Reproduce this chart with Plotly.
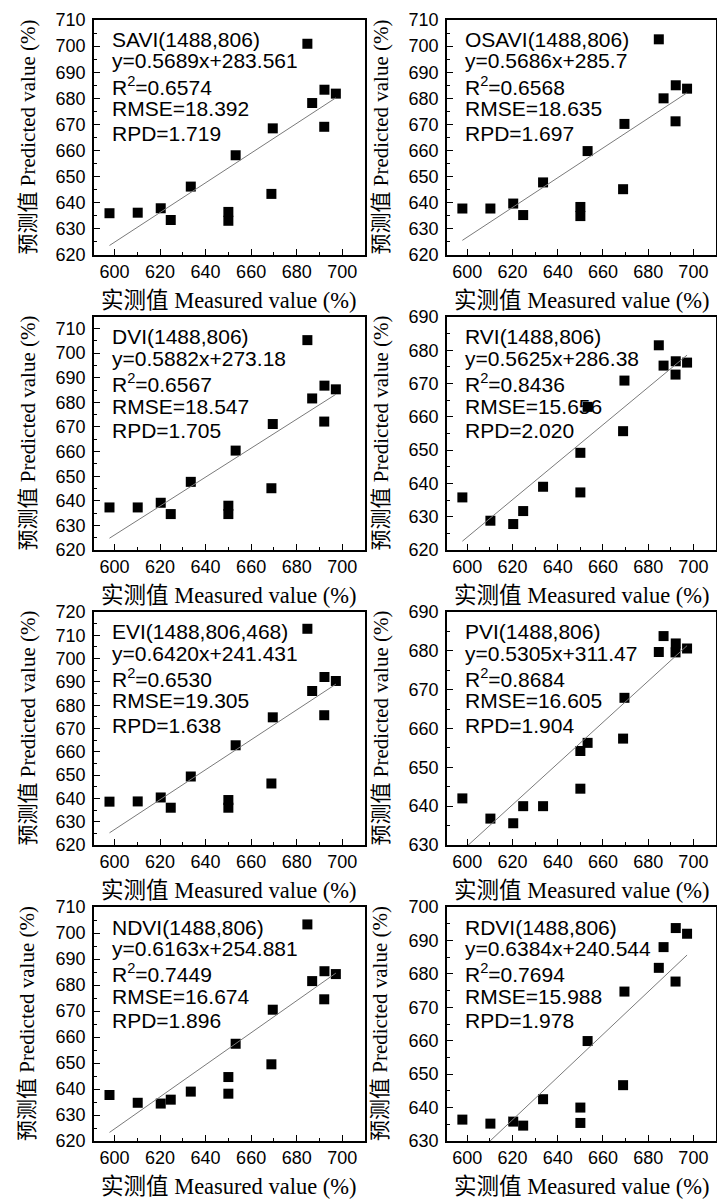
import plotly.graph_objects as go

# ---------------- data ----------------
measured = [597.8, 610.2, 620.3, 624.7, 633.5, 650.0, 650.0, 653.2, 668.9, 669.5,
            684.7, 686.8, 692.1, 692.2, 697.2]

names = ["SAVI(1488,806)", "OSAVI(1488,806)", "DVI(1488,806)", "RVI(1488,806)",
         "EVI(1488,806,468)", "PVI(1488,806)", "NDVI(1488,806)", "RDVI(1488,806)"]

savi = [636.0, 636.2, 637.9, 633.4, 646.2, 636.5, 633.1, 658.2, 643.4, 668.5, 700.9, 678.2, 669.1, 683.3, 681.8]
osavi = [637.8, 637.8, 639.7, 635.3, 647.8, 638.4, 634.9, 659.8, 645.2, 670.2, 702.6, 680.0, 671.2, 685.0, 683.7]
dvi = [637.3, 637.3, 639.2, 634.6, 647.7, 638.0, 634.6, 660.4, 645.1, 671.2, 705.3, 681.6, 672.2, 686.8, 685.3]
rvi = [635.8, 628.8, 627.8, 631.7, 639.0, 649.2, 637.3, 663.0, 655.7, 670.9, 681.5, 675.4, 672.7, 676.7, 676.3]
evi = [638.6, 638.7, 640.4, 636.0, 649.4, 639.3, 636.0, 662.8, 646.4, 674.8, 712.8, 686.1, 675.7, 692.1, 690.4]
pvi = [642.0, 636.8, 635.6, 640.0, 640.0, 654.2, 644.5, 656.3, 657.4, 667.9, 679.7, 683.8, 679.6, 681.9, 680.6]
ndvi = [637.7, 634.7, 634.4, 635.9, 639.0, 644.6, 638.2, 657.4, 649.5, 670.5, 703.3, 681.5, 674.5, 685.3, 684.2]
rdvi = [636.4, 635.2, 635.8, 634.6, 642.5, 640.0, 635.4, 659.9, 646.7, 674.7, 681.8, 688.0, 677.7, 693.7, 692.0]
predicted = [savi, osavi, dvi, rvi, evi, pvi, ndvi, rdvi]

slopes = [0.5689, 0.5686, 0.5882, 0.5625, 0.6420, 0.5305, 0.6163, 0.6384]
intercepts = [283.561, 285.7, 273.18, 286.38, 241.431, 311.47, 254.881, 240.544]
eq_text = ["y=0.5689x+283.561", "y=0.5686x+285.7", "y=0.5882x+273.18", "y=0.5625x+286.38",
           "y=0.6420x+241.431", "y=0.5305x+311.47", "y=0.6163x+254.881", "y=0.6384x+240.544"]
r2 = ["0.6574", "0.6568", "0.6567", "0.8436", "0.6530", "0.8684", "0.7449", "0.7694"]
rmse = ["18.392", "18.635", "18.547", "15.656", "19.305", "16.605", "16.674", "15.988"]
rpd = ["1.719", "1.697", "1.705", "2.020", "1.638", "1.904", "1.896", "1.978"]

y_ranges = [[620, 710], [620, 710], [620, 714.7], [620, 690],
            [620, 720], [630, 690], [620, 710], [630, 700]]
x_range = [591, 710]
x_title = "实测值 Measured value (%)"
y_title = "预测值 Predicted value (%)"

# ---------------- layout geometry (pixels) ----------------
W, H = 717, 1200
col_l = [94, 447]
col_r = [365, 716]
row_t = [20, 317, 612, 907]
row_b = [255, 550, 845, 1141]

SANS = "Liberation Sans, Arial, sans-serif"
SERIF = "Liberation Serif, Times New Roman, Noto Sans CJK SC, serif"

fig = go.Figure()
annotations = []

for i in range(8):
    r, c = divmod(i, 2)
    n = i + 1
    xa = "x" if n == 1 else f"x{n}"
    ya = "y" if n == 1 else f"y{n}"
    xdom = [col_l[c] / W, col_r[c] / W]
    ydom = [1 - row_b[r] / H, 1 - row_t[r] / H]

    fig.add_trace(go.Scatter(
        x=measured, y=predicted[i], mode="markers", xaxis=xa, yaxis=ya,
        marker=dict(symbol="square", size=10, color="black"), showlegend=False,
        hoverinfo="skip"))

    x0, x1 = min(measured), max(measured)
    fig.add_trace(go.Scatter(
        x=[x0, x1], y=[slopes[i] * x0 + intercepts[i], slopes[i] * x1 + intercepts[i]],
        mode="lines", xaxis=xa, yaxis=ya,
        line=dict(color="#7a7a7a", width=1), showlegend=False, hoverinfo="skip"))

    axis_common = dict(showline=True, mirror=True, linecolor="black", linewidth=1.5,
                       showgrid=False, zeroline=False, ticks="inside", ticklen=6,
                       tickwidth=1.2, tickcolor="black", automargin=False,
                       tickfont=dict(family=SANS, size=18, color="black"))
    fig.layout[("xaxis" if n == 1 else f"xaxis{n}")] = dict(
        domain=xdom, range=x_range, dtick=20, tick0=600, anchor=ya,
        minor=dict(ticks="inside", ticklen=3.5, dtick=10, tick0=600, tickcolor="black"),
        **axis_common)
    fig.layout[("yaxis" if n == 1 else f"yaxis{n}")] = dict(
        domain=ydom, range=y_ranges[i], dtick=10, anchor=xa, ticklabelstandoff=3,
        minor=dict(ticks="inside", ticklen=3.5, dtick=5, tickcolor="black"),
        **axis_common)

    # statistic text lines
    lines = [names[i], eq_text[i], f"R<sup>2</sup>={r2[i]}", f"RMSE={rmse[i]}", f"RPD={rpd[i]}"]
    offs = [20, 41, 66, 89, 113]
    for t, o in zip(lines, offs):
        annotations.append(dict(
            text=t, xref="paper", yref="paper",
            x=(col_l[c] + 16) / W, y=1 - (row_t[r] + o) / H,
            xanchor="left", yanchor="middle", showarrow=False,
            font=dict(family=SANS, size=21, color="black")))

    # axis titles
    annotations.append(dict(
        text=x_title, xref="paper", yref="paper",
        x=(col_l[c] + col_r[c]) / 2 / W, y=1 - (row_b[r] + 45) / H,
        xanchor="center", yanchor="middle", showarrow=False,
        font=dict(family=SERIF, size=22.5, color="black")))
    annotations.append(dict(
        text=y_title, xref="paper", yref="paper",
        x=(col_l[c] - 67) / W, y=1 - (row_t[r] + row_b[r]) / 2 / H,
        xanchor="center", yanchor="middle", textangle=-90, showarrow=False,
        font=dict(family=SERIF, size=21, color="black")))

fig.update_layout(width=W, height=H, margin=dict(l=0, r=0, t=0, b=0, autoexpand=False),
                  paper_bgcolor="white", plot_bgcolor="white",
                  annotations=annotations, showlegend=False)

fig.write_html("out.html", config={"displayModeBar": False},
               post_script="document.body.style.margin='0';document.body.style.overflow='hidden';")
